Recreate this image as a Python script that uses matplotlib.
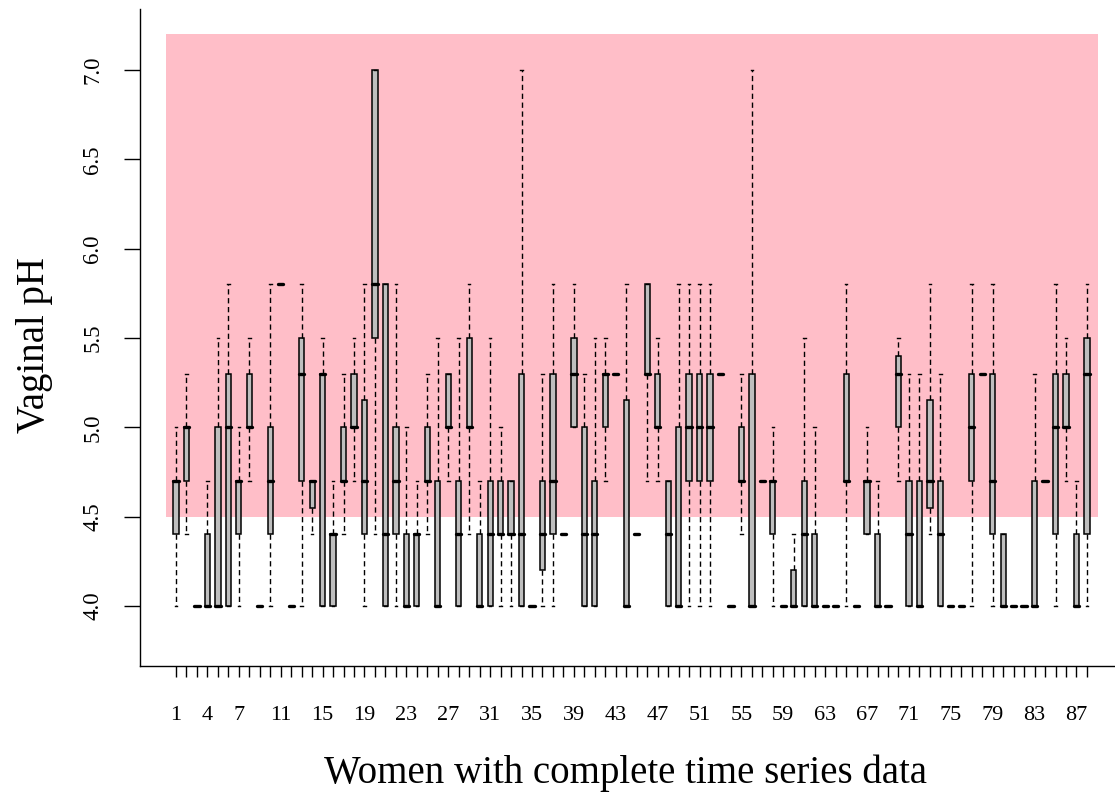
import matplotlib
matplotlib.use("Agg")
import matplotlib.pyplot as plt
from matplotlib.patches import Rectangle

plt.rcParams['font.family'] = ['Liberation Serif', 'DejaVu Serif']
plt.rcParams['lines.scale_dashes'] = False

# Five-number summaries of vaginal pH for each woman (1..88)
ph_min = [4.0, 4.4, 4.0, 4.0, 4.0, 4.0, 4.0, 4.7, 4.0, 4.0,
          5.8, 4.0, 4.0, 4.4, 4.0, 4.0, 4.4, 4.7, 4.0, 4.4,
          4.0, 4.0, 4.0, 4.0, 4.4, 4.0, 4.7, 4.0, 4.4, 4.0,
          4.0, 4.0, 4.0, 4.0, 4.0, 4.0, 4.0, 4.4, 5.0, 4.0,
          4.0, 4.7, 5.3, 4.0, 4.4, 4.7, 4.7, 4.0, 4.0, 4.0,
          4.0, 4.0, 5.3, 4.0, 4.4, 4.0, 4.7, 4.0, 4.0, 4.0,
          4.0, 4.0, 4.0, 4.0, 4.0, 4.0, 4.4, 4.0, 4.0, 4.7,
          4.0, 4.0, 4.4, 4.0, 4.0, 4.0, 4.0, 5.3, 4.0, 4.0,
          4.0, 4.0, 4.0, 4.7, 4.0, 4.7, 4.0, 4.0]
ph_q1 = [4.4, 4.7, 4.0, 4.0, 4.0, 4.0, 4.4, 5.0, 4.0, 4.4,
         5.8, 4.0, 4.7, 4.55, 4.0, 4.0, 4.7, 5.0, 4.4, 5.5,
         4.0, 4.4, 4.0, 4.0, 4.7, 4.0, 5.0, 4.0, 5.0, 4.0,
         4.0, 4.4, 4.4, 4.0, 4.0, 4.2, 4.4, 4.4, 5.0, 4.0,
         4.0, 5.0, 5.3, 4.0, 4.4, 5.3, 5.0, 4.0, 4.0, 4.7,
         4.7, 4.7, 5.3, 4.0, 4.7, 4.0, 4.7, 4.4, 4.0, 4.0,
         4.0, 4.0, 4.0, 4.0, 4.7, 4.0, 4.4, 4.0, 4.0, 5.0,
         4.0, 4.0, 4.55, 4.0, 4.0, 4.0, 4.7, 5.3, 4.4, 4.0,
         4.0, 4.0, 4.0, 4.7, 4.4, 5.0, 4.0, 4.4]
ph_med = [4.7, 5.0, 4.0, 4.0, 4.0, 5.0, 4.7, 5.0, 4.0, 4.7,
          5.8, 4.0, 5.3, 4.7, 5.3, 4.4, 4.7, 5.0, 4.7, 5.8,
          4.4, 4.7, 4.0, 4.4, 4.7, 4.0, 5.0, 4.4, 5.0, 4.0,
          4.4, 4.4, 4.4, 4.4, 4.0, 4.4, 4.7, 4.4, 5.3, 4.4,
          4.4, 5.3, 5.3, 4.0, 4.4, 5.3, 5.0, 4.4, 4.0, 5.0,
          5.0, 5.0, 5.3, 4.0, 4.7, 4.0, 4.7, 4.7, 4.0, 4.0,
          4.4, 4.0, 4.0, 4.0, 4.7, 4.0, 4.7, 4.0, 4.0, 5.3,
          4.4, 4.0, 4.7, 4.4, 4.0, 4.0, 5.0, 5.3, 4.7, 4.0,
          4.0, 4.0, 4.0, 4.7, 5.0, 5.0, 4.0, 5.3]
ph_q3 = [4.7, 5.0, 4.0, 4.4, 5.0, 5.3, 4.7, 5.3, 4.0, 5.0,
         5.8, 4.0, 5.5, 4.7, 5.3, 4.4, 5.0, 5.3, 5.15, 7.0,
         5.8, 5.0, 4.4, 4.4, 5.0, 4.7, 5.3, 4.7, 5.5, 4.4,
         4.7, 4.7, 4.7, 5.3, 4.0, 4.7, 5.3, 4.4, 5.5, 5.0,
         4.7, 5.3, 5.3, 5.15, 4.4, 5.8, 5.3, 4.7, 5.0, 5.3,
         5.3, 5.3, 5.3, 4.0, 5.0, 5.3, 4.7, 4.7, 4.0, 4.2,
         4.7, 4.4, 4.0, 4.0, 5.3, 4.0, 4.7, 4.4, 4.0, 5.4,
         4.7, 4.7, 5.15, 4.7, 4.0, 4.0, 5.3, 5.3, 5.3, 4.4,
         4.0, 4.0, 4.7, 4.7, 5.3, 5.3, 4.4, 5.5]
ph_max = [5.0, 5.3, 4.0, 4.7, 5.5, 5.8, 5.0, 5.5, 4.0, 5.8,
          5.8, 4.0, 5.8, 4.7, 5.5, 4.7, 5.3, 5.5, 5.8, 7.0,
          5.8, 5.8, 5.0, 4.7, 5.3, 5.5, 5.3, 5.5, 5.8, 4.7,
          5.5, 5.0, 4.7, 7.0, 4.0, 5.3, 5.8, 4.4, 5.8, 5.3,
          5.5, 5.5, 5.3, 5.8, 4.4, 5.8, 5.5, 4.7, 5.8, 5.8,
          5.8, 5.8, 5.3, 4.0, 5.3, 7.0, 4.7, 5.0, 4.0, 4.4,
          5.5, 5.0, 4.0, 4.0, 5.8, 4.0, 5.0, 4.7, 4.0, 5.5,
          5.3, 5.3, 5.8, 5.3, 4.0, 4.0, 5.8, 5.3, 5.8, 4.4,
          4.0, 4.0, 5.3, 4.7, 5.8, 5.5, 4.7, 5.8]

women = list(range(1, len(ph_med) + 1))
shown_labels = [1, 4, 7, 11, 15, 19, 23, 27, 31, 35, 39, 43, 47, 51,
                55, 59, 63, 67, 71, 75, 79, 83, 87]
y_ticks = [4.0, 4.5, 5.0, 5.5, 6.0, 6.5, 7.0]

# shaded band
band_low, band_high = 4.5, 7.2

W, H = 1115, 796
fig = plt.figure(figsize=(W / 100, H / 100), dpi=100)
ax = fig.add_axes([140 / W, 1 - 666 / H, 1 - 140 / W, (666 - 9) / H])

ax.set_xlim(-2.44, 90.68)
ax.set_ylim(3.664, 7.341)

ax.add_patch(Rectangle((0.05, band_low), 89.03, band_high - band_low,
                       facecolor='#FFBEC8', edgecolor='none', zorder=0))

stats = [dict(med=m, q1=a, q3=b, whislo=lo, whishi=hi, fliers=[])
         for lo, a, m, b, hi in zip(ph_min, ph_q1, ph_med, ph_q3, ph_max)]

ax.bxp(stats, positions=women, widths=0.5, capwidths=0.25,
       patch_artist=True, showfliers=False, manage_ticks=False,
       boxprops=dict(facecolor='#BEBEBE', edgecolor='black', linewidth=1.1),
       whiskerprops=dict(color='black', linewidth=1.0, linestyle=(0, (3.8, 2.6))),
       capprops=dict(color='black', linewidth=1.0),
       medianprops=dict(color='black', linewidth=2.4, solid_capstyle='round'),
       zorder=2)

ax.spines['top'].set_visible(False)
ax.spines['right'].set_visible(False)
for s in ('left', 'bottom'):
    ax.spines[s].set_linewidth(1.0)

ax.set_yticks(y_ticks)
ax.set_yticklabels([f"{v:.1f}" for v in y_ticks], rotation=90, va='center')
ax.set_xticks(women)
ax.set_xticklabels([str(w) if w in shown_labels else '' for w in women])
ax.tick_params(axis='y', length=11.5, width=1.0, pad=15, labelsize=16.5)
ax.tick_params(axis='x', length=8, width=1.0, pad=21, labelsize=16)

fig.text(626 / W, 1 - 773 / H, "Women with complete time series data",
         ha='center', va='center', fontsize=28)
fig.text(35 / W, 1 - 345 / H, "Vaginal pH", ha='center', va='center',
         rotation=90, fontsize=28)

fig.savefig("out.png", dpi=100)
